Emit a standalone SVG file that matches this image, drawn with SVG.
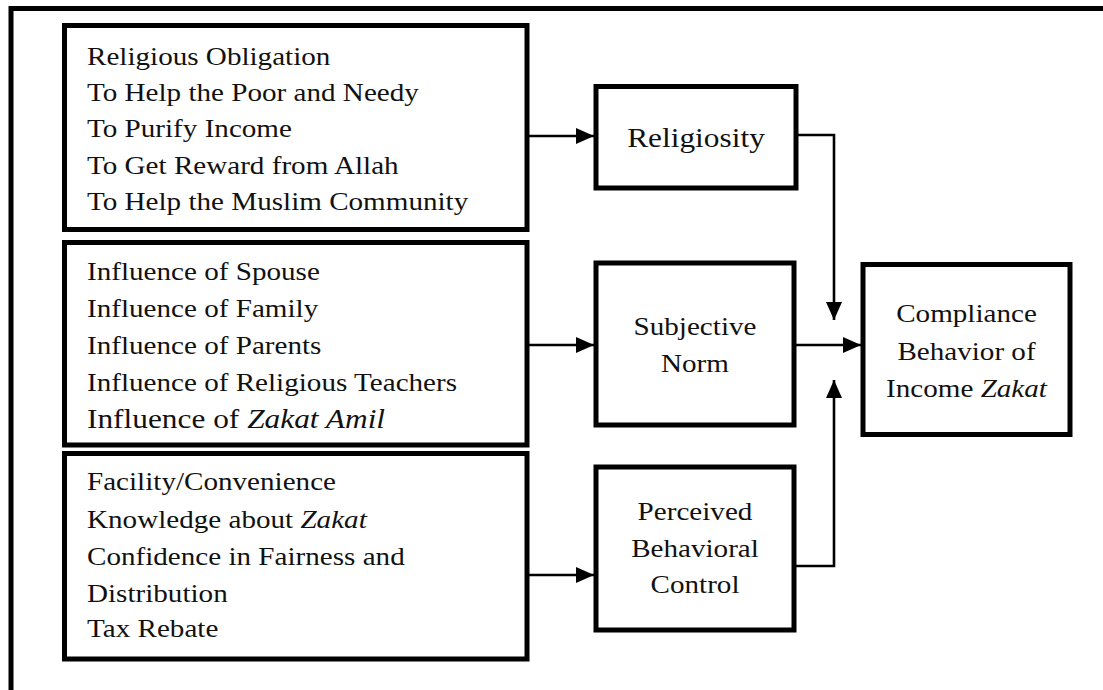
<svg xmlns="http://www.w3.org/2000/svg" width="1103" height="690" viewBox="0 0 1103 690">
<style>
.box{fill:#fff;stroke:#000;stroke-width:5}
.t{font-family:"Liberation Serif","Times New Roman",serif;font-size:26px;fill:#111}
.c{text-anchor:middle}
.conn{fill:none;stroke:#000;stroke-width:2.6}
</style>
<defs>
<marker id="ah" markerUnits="userSpaceOnUse" markerWidth="18" markerHeight="16" viewBox="0 0 18 16" refX="18" refY="8" orient="auto">
<path d="M0,0 L18,8 L0,16 Z" fill="#000"/>
</marker>
</defs>
<rect width="1103" height="690" fill="#fff"/>
<path d="M11,690 V8.5 H1103" fill="none" stroke="#000" stroke-width="5"/>

<g id="connectors">
<line class="conn" x1="528" y1="136" x2="594" y2="136" marker-end="url(#ah)"/>
<line class="conn" x1="528" y1="345" x2="594" y2="345" marker-end="url(#ah)"/>
<line class="conn" x1="528" y1="575" x2="594" y2="575" marker-end="url(#ah)"/>
<line class="conn" x1="794" y1="345" x2="861" y2="345" marker-end="url(#ah)"/>
<path class="conn" d="M796,135 H834 V320" marker-end="url(#ah)"/>
<path class="conn" d="M794,566 H834 V380" marker-end="url(#ah)"/>
</g>

<g id="religiosity-items">
<rect class="box" x="64.5" y="25.5" width="462.5" height="204"/>
<g transform="translate(87,0) scale(1.12,1)">
<text class="t" x="0" y="65">Religious Obligation</text>
<text class="t" x="0" y="101">To Help the Poor and Needy</text>
<text class="t" x="0" y="137.5">To Purify Income</text>
<text class="t" x="0" y="174">To Get Reward from Allah</text>
<text class="t" x="0" y="210">To Help the Muslim Community</text>
</g>
</g>

<g id="norm-items">
<rect class="box" x="64.5" y="242.5" width="462.5" height="202.5"/>
<g transform="translate(87,0) scale(1.12,1)">
<text class="t" x="0" y="280">Influence of Spouse</text>
<text class="t" x="0" y="317">Influence of Family</text>
<text class="t" x="0" y="354">Influence of Parents</text>
<text class="t" x="0" y="391">Influence of Religious Teachers</text>
<text class="t" x="0" y="428" style="font-size:28px">Influence of <tspan font-style="italic">Zakat Amil</tspan></text>
</g>
</g>

<g id="control-items">
<rect class="box" x="64.5" y="453.5" width="462.5" height="205.5"/>
<g transform="translate(87,0) scale(1.12,1)">
<text class="t" x="0" y="490">Facility/Convenience</text>
<text class="t" x="0" y="528">Knowledge about <tspan font-style="italic">Zakat</tspan></text>
<text class="t" x="0" y="565">Confidence in Fairness and</text>
<text class="t" x="0" y="602">Distribution</text>
<text class="t" x="0" y="637">Tax Rebate</text>
</g>
</g>

<g id="religiosity">
<rect class="box" x="596" y="86.5" width="200" height="101.5"/>
<g transform="translate(696,0) scale(1.12,1)">
<text class="t c" x="0" y="147" style="font-size:28px">Religiosity</text>
</g>
</g>

<g id="subjective-norm">
<rect class="box" x="596" y="263" width="198" height="162"/>
<g transform="translate(695,0) scale(1.12,1)">
<text class="t c" x="0" y="335">Subjective</text>
<text class="t c" x="0" y="372">Norm</text>
</g>
</g>

<g id="perceived-control">
<rect class="box" x="596" y="467" width="198" height="163"/>
<g transform="translate(695,0) scale(1.12,1)">
<text class="t c" x="0" y="520">Perceived</text>
<text class="t c" x="0" y="557">Behavioral</text>
<text class="t c" x="0" y="593">Control</text>
</g>
</g>

<g id="compliance">
<rect class="box" x="863" y="264.5" width="207" height="170"/>
<g transform="translate(966.5,0) scale(1.12,1)">
<text class="t c" x="0" y="322">Compliance</text>
<text class="t c" x="0" y="360">Behavior of</text>
<text class="t c" x="0" y="397">Income <tspan font-style="italic">Zakat</tspan></text>
</g>
</g>
</svg>
